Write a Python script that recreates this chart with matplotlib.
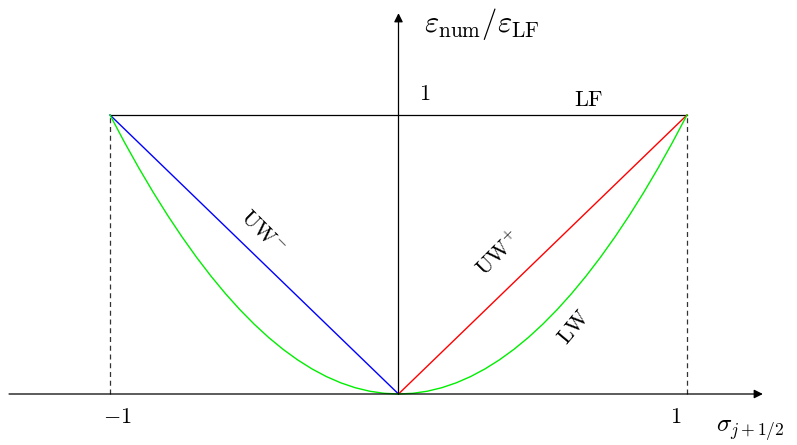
import numpy as np
import matplotlib.pyplot as plt

plt.rcParams['mathtext.fontset'] = 'cm'
plt.rcParams['font.family'] = ['DejaVu Serif']

# Courant number sample points and numerical diffusion ratios
sigma = [-1.0, -0.95, -0.9, -0.85, -0.8, -0.75, -0.7, -0.65, -0.6, -0.55,
         -0.5, -0.45, -0.4, -0.35, -0.3, -0.25, -0.2, -0.15, -0.1, -0.05,
         0.0, 0.05, 0.1, 0.15, 0.2, 0.25, 0.3, 0.35, 0.4, 0.45,
         0.5, 0.55, 0.6, 0.65, 0.7, 0.75, 0.8, 0.85, 0.9, 0.95, 1.0]
lw_ratio = [1.0, 0.9025, 0.81, 0.7225, 0.64, 0.5625, 0.49, 0.4225, 0.36, 0.3025,
            0.25, 0.2025, 0.16, 0.1225, 0.09, 0.0625, 0.04, 0.0225, 0.01, 0.0025,
            0.0, 0.0025, 0.01, 0.0225, 0.04, 0.0625, 0.09, 0.1225, 0.16, 0.2025,
            0.25, 0.3025, 0.36, 0.4225, 0.49, 0.5625, 0.64, 0.7225, 0.81, 0.9025, 1.0]
uw_minus_sigma = [-1.0, 0.0]
uw_minus_ratio = [1.0, 0.0]
uw_plus_sigma = [0.0, 1.0]
uw_plus_ratio = [0.0, 1.0]
lf_sigma = [-1.0, 1.0]
lf_ratio = [1.0, 1.0]
tick_positions = [-1.0, 1.0]
tick_labels = [r'$-1$', r'$1$']
tick_shift = [0.024, -0.038]

fig = plt.figure(figsize=(7.97, 4.45), dpi=100)
ax = fig.add_axes([0, 0, 1, 1])
ax.set_xlim(-1.3813, 1.3813)
ax.set_ylim(-0.1828, 1.4122)
ax.axis('off')

# coordinate axes with arrow heads
arrow = dict(arrowstyle='-|>', color='black', lw=0.9, mutation_scale=13,
             shrinkA=0, shrinkB=0)
ax.annotate('', xy=(1.263, 0), xytext=(-1.35, 0), arrowprops=arrow)
ax.annotate('', xy=(0, 1.365), xytext=(0, 0), arrowprops=arrow)

# vertical guides at sigma = +-1
for s in tick_positions:
    ax.plot([s, s], [0, 1], color='#333333', lw=0.9, ls=(0, (4, 3)))

ax.plot(lf_sigma, lf_ratio, color='black', lw=0.9)
ax.plot(uw_minus_sigma, uw_minus_ratio, color='#0000ff', lw=1.0)
ax.plot(uw_plus_sigma, uw_plus_ratio, color='#ff0000', lw=1.0)
ax.plot(sigma, lw_ratio, color='#00ee00', lw=1.0)

fs = 16
for s, lab, d in zip(tick_positions, tick_labels, tick_shift):
    ax.text(s + d, -0.084, lab, fontsize=fs, ha='center', va='center')
ax.text(0.09, 1.075, r'$1$', fontsize=fs, ha='center', va='center')

ax.text(0.09, 1.297, r'$\varepsilon_{\mathrm{num}}/\varepsilon_{\mathrm{LF}}$',
        fontsize=22, ha='left', va='baseline')
ax.text(1.1, -0.14, r'$\sigma_{j+1/2}$', fontsize=18, ha='left', va='baseline')

ax.text(0.66, 1.054, r'$\mathrm{LF}$', fontsize=fs, ha='center', va='center')
ax.text(-0.47, 0.581, r'$\mathrm{UW}^{-}$', fontsize=fs, ha='center', va='center',
        rotation=-45, rotation_mode='anchor')
ax.text(0.35, 0.50, r'$\mathrm{UW}^{+}$', fontsize=fs, ha='center', va='center',
        rotation=45, rotation_mode='anchor')
ax.text(0.61, 0.24, r'$\mathrm{LW}$', fontsize=fs, ha='center', va='center',
        rotation=50, rotation_mode='anchor')

fig.savefig('out.png', dpi=100)
